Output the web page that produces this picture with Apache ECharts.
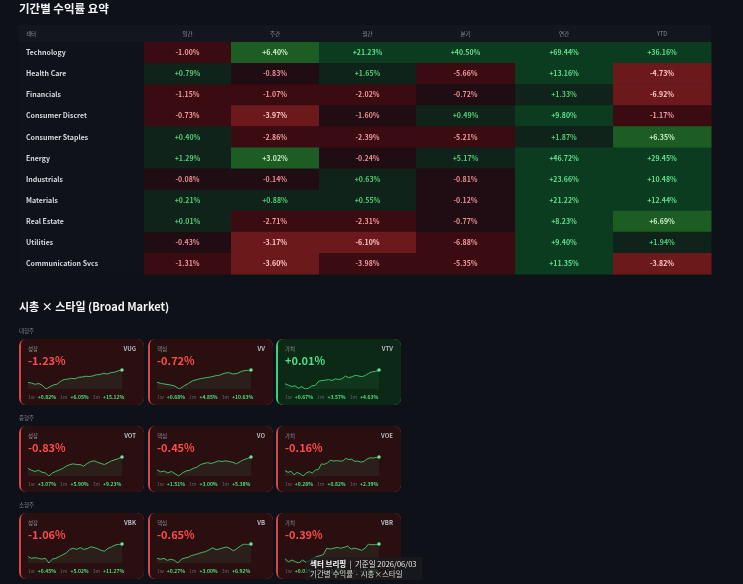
<!DOCTYPE html>
<html>
<head>
<meta charset="utf-8">
<title>섹터 브리핑</title>
<script src="https://cdn.jsdelivr.net/npm/echarts@6/dist/echarts.min.js"></script>
<style>
html, body { margin: 0; padding: 0; background: #0e1117; }
#main { width: 743px; height: 584px; }
</style>
</head>
<body>
<div id="main"></div>
<script>
// ---- data: 기간별 수익률 (%)
var periods = ['일간', '주간', '월간', '분기', '연간', 'YTD'];
var sectors = ['Technology', 'Health Care', 'Financials', 'Consumer Discret', 'Consumer Staples',
  'Energy', 'Industrials', 'Materials', 'Real Estate', 'Utilities', 'Communication Svcs'];
var dailyRet   = [-1.00, 0.79, -1.15, -0.73, 0.40, 1.29, -0.08, 0.21, 0.01, -0.43, -1.31];
var weeklyRet  = [6.40, -0.83, -1.07, -3.97, -2.86, 3.02, -0.14, 0.88, -2.71, -3.17, -3.60];
var monthlyRet = [21.23, 1.65, -2.02, -1.60, -2.39, -0.24, 0.63, 0.55, -2.31, -6.10, -3.98];
var quarterRet = [40.50, -5.66, -0.72, 0.49, -5.21, 5.17, -0.81, -0.12, -0.77, -6.88, -5.35];
var yearRet    = [69.44, 13.16, 1.33, 9.80, 1.87, 46.72, 23.66, 21.22, 8.23, 9.40, 11.35];
var ytdRet     = [36.16, -4.73, -6.92, -1.17, 6.35, 29.45, 10.48, 12.44, 6.69, 1.94, -3.82];

// ---- data: 시총 x 스타일
var sizeGroups = ['대형주', '중형주', '소형주'];
var styleNames = ['성장', '핵심', '가치'];
var tickers = [['VUG', 'VV', 'VTV'], ['VOT', 'VO', 'VOE'], ['VBK', 'VB', 'VBR']];
var dayChg = [[-1.23, -0.72, 0.01], [-0.83, -0.45, -0.16], [-1.06, -0.65, -0.39]];
var ret1w = [[0.82, 0.68, 0.67], [3.07, 1.51, 0.28], [0.45, 0.27, 0.01]];
var ret1m = [[6.05, 4.85, 3.57], [5.90, 3.00, 0.82], [5.02, 3.00, 1.52]];
var ret3m = [[15.12, 10.63, 4.63], [9.23, 5.38, 2.39], [11.27, 6.92, 3.16]];

var sparkVUG = [25, 23, 20, 22, 17, 7, 13, 18, 20, 28, 33, 34, 36, 35, 39, 40, 42, 41, 43, 46, 47, 50, 48, 52, 53, 57, 59];
var sparkVV  = [25, 22, 20, 18, 15, 7, 15, 22, 30, 33, 36, 38, 40, 43, 45, 50, 52, 48, 50, 56, 58, 59];
var sparkVTV = [23, 19, 15, 17, 10, 15, 8, 10, 17, 18, 30, 32, 33, 35, 32, 37, 35, 37, 45, 40, 43, 47, 45, 43, 47, 53, 57, 58, 62];
var sparkVOT = [32, 27, 24, 27, 22, 20, 12, 20, 24, 28, 32, 38, 42, 44, 42, 42, 38, 45, 50, 52, 48, 45, 42, 47, 52, 55, 58, 62];
var sparkVO  = [28, 23, 25, 20, 24, 18, 12, 20, 25, 27, 32, 35, 42, 45, 47, 45, 48, 52, 50, 52, 50, 48, 44, 50, 55, 58, 62];
var sparkVOE = [22, 17, 20, 10, 17, 13, 7, 15, 19, 15, 23, 25, 40, 39, 43, 50, 48, 49, 48, 48, 55, 52, 53, 47, 48, 45, 47, 53, 57, 56, 58, 59];
var sparkVBK = [30, 25, 27, 25, 23, 25, 12, 23, 25, 30, 35, 40, 50, 53, 50, 55, 50, 52, 57, 55, 52, 47, 45, 53, 57, 62, 64, 65];
var sparkVB  = [27, 25, 27, 22, 25, 22, 15, 25, 28, 30, 35, 37, 40, 43, 45, 50, 55, 50, 52, 55, 57, 53, 47, 53, 60, 65, 64, 65];
var sparkVBR = [30, 23, 27, 23, 20, 27, 22, 25, 30, 35, 37, 40, 55, 53, 55, 57, 55, 57, 60, 53, 55, 53, 50, 55, 65, 63, 64, 65];
var sparks = [[sparkVUG, sparkVV, sparkVTV], [sparkVOT, sparkVO, sparkVOE], [sparkVBK, sparkVB, sparkVBR]];

// ---- styling / layout
var FONT = '"Noto Sans CJK KR", "Noto Sans", sans-serif';
var colWeights = [87, 88, 97, 99, 98, 98];
var colEdges = [0];
colWeights.forEach(function (w) { colEdges.push(colEdges[colEdges.length - 1] + w); });
// per-column tone bands: |neg| < a -> weak, < b -> mid, else strong ; pos < a -> weak, >= b -> deep, else bright
var cellBands = [
  { neg: [0.5, 5], pos: [2, 10] },
  { neg: [1, 3], pos: [2, 10] },
  { neg: [2, 5], pos: [2, 10] },
  { neg: [2, 7], pos: [6, 10] },
  { neg: [1, 3], pos: [5, 8] },
  { neg: [1, 3], pos: [5, 10] }
];
var tones = {
  R1: { bg: '#200d13', fg: '#ee8e97' },
  R2: { bg: '#3a0b10', fg: '#f29ca2' },
  R3: { bg: '#6c191c', fg: '#ffc6c6' },
  G1: { bg: '#10231a', fg: '#52cf74' },
  G2: { bg: '#0b3c20', fg: '#63de8e' },
  G3: { bg: '#1d5c22', fg: '#c6efc6' }
};
function toneOf(c, v) {
  var b = cellBands[c];
  if (v < 0) {
    var a = Math.abs(v);
    return a < b.neg[0] ? tones.R1 : (a < b.neg[1] ? tones.R2 : tones.R3);
  }
  return v < b.pos[0] ? tones.G1 : (v >= b.pos[1] ? tones.G2 : tones.G3);
}
function pct(v) { return (v >= 0 ? '+' : '') + v.toFixed(2) + '%'; }

var tableCols = [dailyRet, weeklyRet, monthlyRet, quarterRet, yearRet, ytdRet];
var tableData = [];
tableCols.forEach(function (arr, c) {
  arr.forEach(function (v, r) { tableData.push([c, r, v]); });
});

function renderCell(params, api) {
  var c = api.value(0), r = api.value(1), v = api.value(2);
  var p0 = api.coord([colEdges[c], r]);
  var p1 = api.coord([colEdges[c + 1], r]);
  var h = api.size([0, 1])[1];
  var t = toneOf(c, v);
  var mid = (p0[0] + p1[0]) / 2;
  var kids = [
    { type: 'rect', shape: { x: p0[0], y: p0[1] - h / 2, width: p1[0] - p0[0] + 0.5, height: h + 0.5 }, style: { fill: t.bg } },
    { type: 'text', style: { text: pct(v), x: mid, y: p0[1], align: 'center', verticalAlign: 'middle', fill: t.fg, font: '600 7px ' + FONT } }
  ];
  if (r === 0) {
    kids.push({ type: 'text', style: { text: periods[c], x: mid, y: p0[1] - h / 2 - 8.5, align: 'center', verticalAlign: 'middle', fill: '#8a8f99', font: '5.5px ' + FONT } });
  }
  return { type: 'group', children: kids };
}

var cardX = [19, 148, 276], cardY = [339, 426, 513], cardW = 125, cardH = 66;

var grids = [{ left: 144, top: 42, width: 567, height: 232 }];
var xAxes = [{ type: 'value', min: 0, max: colEdges[colEdges.length - 1], show: false, gridIndex: 0 }];
var yAxes = [{
  type: 'category', data: sectors, inverse: true, gridIndex: 0,
  axisLine: { show: false }, axisTick: { show: false }, splitLine: { show: false },
  axisLabel: { align: 'left', margin: 118, color: '#d3d6dc', fontSize: 7, fontWeight: 'bold', fontFamily: FONT }
}];
var series = [{
  type: 'custom', xAxisIndex: 0, yAxisIndex: 0, renderItem: renderCell,
  encode: { x: 0, y: 1 }, data: tableData, clip: false, silent: true
}];

var graphics = [
  { type: 'text', left: 19, top: 3, style: { text: '기간별 수익률 요약', fill: '#f2f3f5', font: 'bold 11.5px ' + FONT } },
  { type: 'rect', shape: { x: 19, y: 25, width: 692, height: 17 }, style: { fill: '#13161d' } },
  { type: 'rect', shape: { x: 19, y: 42, width: 125, height: 232 }, style: { fill: '#0f1218' } },
  { type: 'text', x: 26, y: 33.5, style: { text: '섹터', fill: '#8a8f99', font: '5.5px ' + FONT, verticalAlign: 'middle' } },
  { type: 'text', left: 19, top: 301, style: { text: '시총 × 스타일 (Broad Market)', fill: '#f2f3f5', font: 'bold 11px ' + FONT } }
];

var idx = 1;
for (var i = 0; i < 3; i++) {
  graphics.push({ type: 'text', x: 19, y: cardY[i] - 8, style: { text: sizeGroups[i], fill: '#7d828c', font: '5.5px ' + FONT, verticalAlign: 'middle' } });
  for (var j = 0; j < 3; j++) {
    var x = cardX[j], y = cardY[i];
    var up = dayChg[i][j] >= 0;
    var accent = up ? '#3ccf7e' : '#d9454a';
    var bg = up ? '#0c2915' : '#2a0f11';
    graphics.push({ type: 'rect', shape: { x: x, y: y, width: cardW, height: cardH, r: 7 }, style: { fill: accent } });
    graphics.push({ type: 'rect', shape: { x: x + 2, y: y, width: cardW - 2, height: cardH, r: [5, 7, 7, 5] }, style: { fill: bg } });
    graphics.push({ type: 'text', x: x + 9, y: y + 10, style: { text: styleNames[j], fill: '#8d8f95', font: '5.5px ' + FONT, verticalAlign: 'middle' } });
    graphics.push({ type: 'text', x: x + cardW - 8, y: y + 10, style: { text: tickers[i][j], fill: '#b7bac0', font: 'bold 6px ' + FONT, align: 'right', verticalAlign: 'middle' } });
    graphics.push({ type: 'text', x: x + 9, y: y + 22, style: { text: pct(dayChg[i][j]), fill: up ? '#4ee08a' : '#ff4b4b', font: 'bold 11px ' + FONT, verticalAlign: 'middle' } });
    var vc = function (v) { return v >= 0 ? 'v' : 'n'; };
    graphics.push({
      type: 'text', x: x + 9, y: y + 58,
      style: {
        text: '{k|1w}{' + vc(ret1w[i][j]) + '|' + pct(ret1w[i][j]) + '}{k|1m}{' + vc(ret1m[i][j]) + '|' + pct(ret1m[i][j]) + '}{k|3m}{' + vc(ret3m[i][j]) + '|' + pct(ret3m[i][j]) + '}',
        verticalAlign: 'middle',
        rich: {
          k: { fill: '#5f636b', font: '5px ' + FONT, padding: [0, 3, 0, 0] },
          v: { fill: '#4ade80', font: 'bold 5px ' + FONT, padding: [0, 4, 0, 0] },
          n: { fill: '#ff6b6b', font: 'bold 5px ' + FONT, padding: [0, 4, 0, 0] }
        }
      }
    });

    grids.push({ left: x + 9, top: y + 31, width: 94, height: 19 });
    xAxes.push({ type: 'category', gridIndex: idx, show: false, boundaryGap: false, data: sparks[i][j].map(function (_, k) { return k; }) });
    yAxes.push({ type: 'value', gridIndex: idx, show: false, scale: true, min: 'dataMin', max: 'dataMax' });
    var pts = sparks[i][j].map(function (v, k, a) {
      return k === a.length - 1 ? { value: v, symbol: 'circle', symbolSize: 3.5 } : { value: v, symbol: 'none' };
    });
    series.push({
      type: 'line', xAxisIndex: idx, yAxisIndex: idx, data: pts, showAllSymbol: true,
      lineStyle: { color: '#45b86c', width: 1 }, itemStyle: { color: '#6fe59c' },
      areaStyle: { color: 'rgba(72,190,110,0.13)', origin: 'start' },
      silent: true, animation: false
    });
    idx++;
  }
}

// caption overlay at the bottom
graphics.push({ type: 'rect', z: 100, shape: { x: 306, y: 557, width: 116, height: 23 }, style: { fill: 'rgba(28,28,30,0.72)' } });
graphics.push({
  type: 'text', z: 101, x: 310, y: 564,
  style: {
    text: '{b|섹터 브리핑}{n|  |  기준일 2026/06/03}', verticalAlign: 'middle',
    rich: { b: { fill: '#ffffff', font: 'bold 7.5px ' + FONT }, n: { fill: '#e8e8e8', font: '7.5px ' + FONT } }
  }
});
graphics.push({ type: 'text', z: 101, x: 310, y: 574, style: { text: '기간별 수익률 · 시총×스타일', fill: '#d0d0d0', font: '7.5px ' + FONT, verticalAlign: 'middle' } });

var chart = echarts.init(document.getElementById('main'));
chart.setOption({
  backgroundColor: '#0e1117',
  animation: false,
  grid: grids,
  xAxis: xAxes,
  yAxis: yAxes,
  series: series,
  graphic: graphics
});
</script>
</body>
</html>
